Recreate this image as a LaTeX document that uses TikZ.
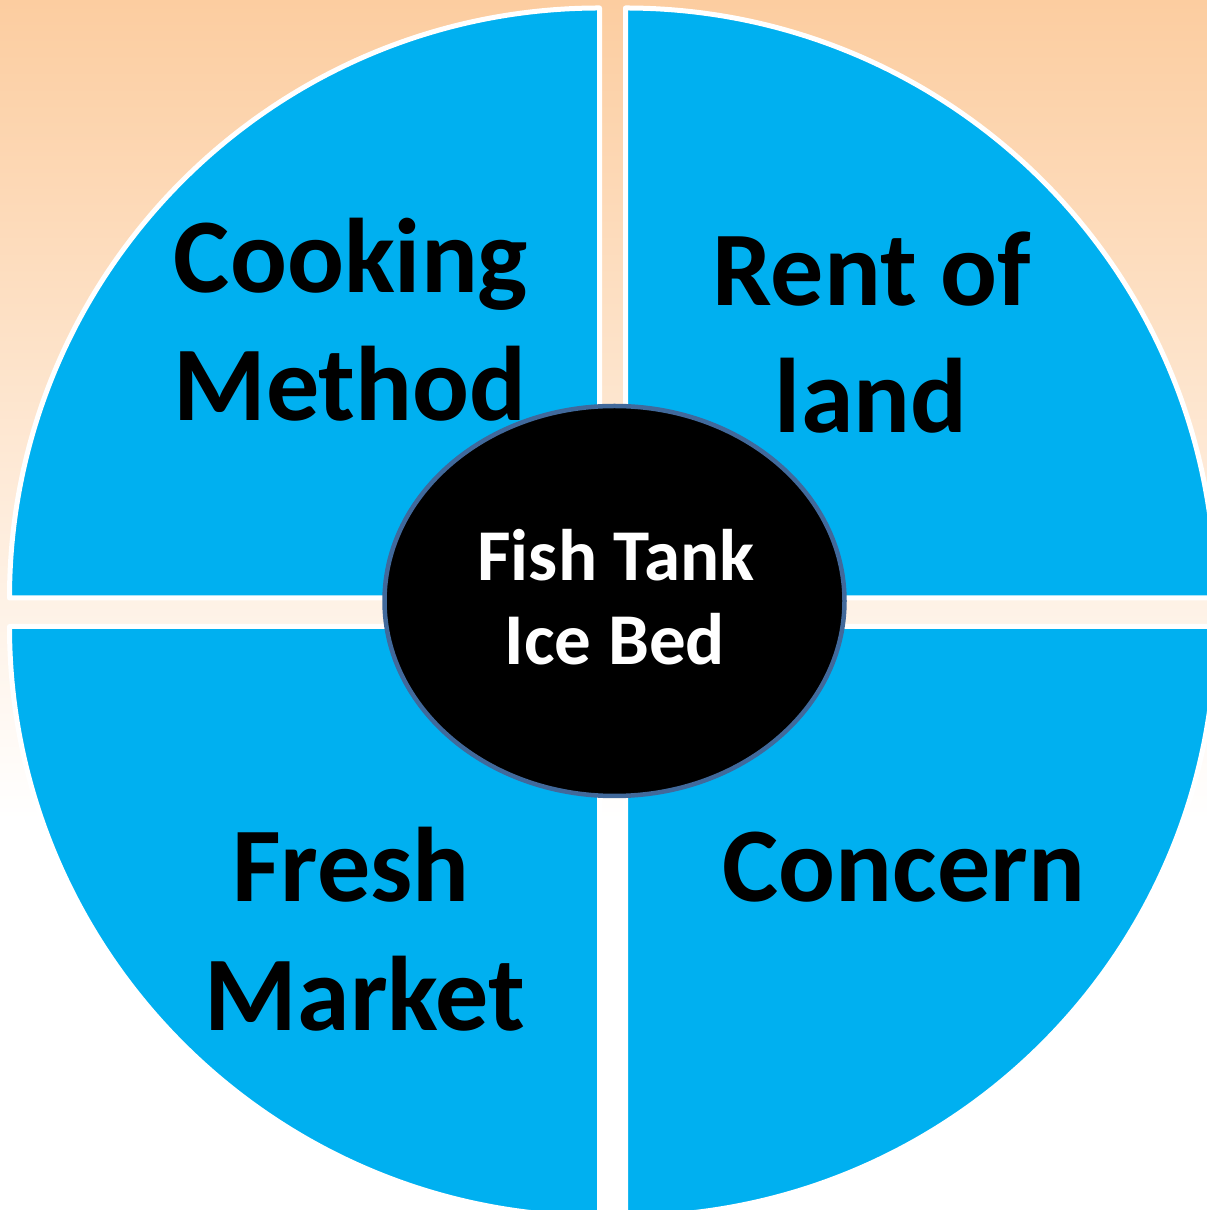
\documentclass[tikz,border=0pt]{standalone}
\usepackage{fontspec}
\setmainfont{Carlito}
\usetikzlibrary{shapes.geometric}
\definecolor{peach}{RGB}{252,205,160}
\definecolor{segblue}{RGB}{0,176,240}
\definecolor{rimblue}{RGB}{65,105,155}
\tikzset{
  seg/.style={fill=segblue, draw=white, line width=5pt, line join=round},
  bigtxt/.style={anchor=base, inner sep=0pt, text=black, font=\fontsize{106}{106}\selectfont\bfseries},
  midtxt/.style={anchor=base, inner sep=0pt, text=white, font=\fontsize{73}{73}\selectfont\bfseries},
}
\begin{document}
\begin{tikzpicture}[x=1pt,y=1pt]
\useasboundingbox (0,0) rectangle (1207,1210);
% background
\fill[white] (0,0) rectangle (1207,1210);
\shade[top color=peach, bottom color=white] (0,390) rectangle (1207,1210);
% four quarter sectors
\path[seg] (599.5,612) -- ++(-590,0) arc[start angle=180, end angle=90, radius=590] -- cycle;
\path[seg] (625.5,612) -- ++(0,590) arc[start angle=90, end angle=0, radius=590] -- cycle;
\path[seg] (599.5,583.5) -- ++(-590,0) arc[start angle=180, end angle=270, radius=590] -- cycle;
\path[seg] (625.5,583.5) -- ++(590,0) arc[start angle=0, end angle=-90, radius=590] -- cycle;
% centre
\node[ellipse, minimum width=460pt, minimum height=390pt, inner sep=0pt, fill=black, draw=rimblue, line width=4.5pt] (hub) at (614.5,609) {};
% labels
\node[bigtxt] (cook) at (351,917) {Cooking};
\node[bigtxt] (meth) at (350,789) {Method};
\node[bigtxt] (rent) at (872,904) {Rent of};
\node[bigtxt] (land) at (871,777) {land};
\node[bigtxt] (fresh) at (351,308) {Fresh};
\node[bigtxt] (market) at (365,179) {Market};
\node[bigtxt] (concern) at (904,308) {Concern};
\node[midtxt] (fish) at (616,629) {Fish Tank};
\node[midtxt] (ice) at (615,545) {Ice Bed};
\end{tikzpicture}
\end{document}
